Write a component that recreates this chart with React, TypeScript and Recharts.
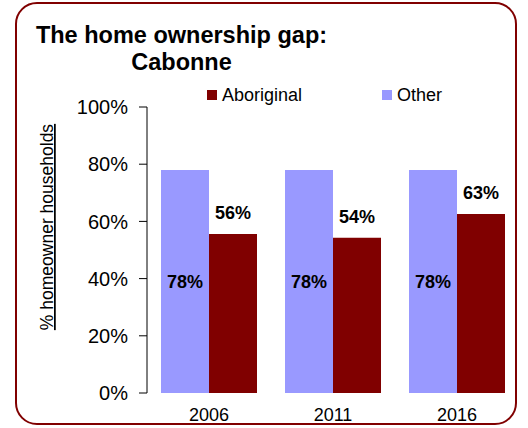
import React from "react";
import {
    BarChart,
    Bar,
    XAxis,
    YAxis,
    Legend,
    LabelList,
} from "recharts";

// values (percent of households)
const years = ["2006", "2011", "2016"];
const otherShare = [78, 78, 78];
const aboriginalShare = [55.6, 54.3, 62.6];
const yTicks = [0, 20, 40, 60, 80, 100];

const legendItems = [
    { name: "Aboriginal", color: "#800000" },
    { name: "Other", color: "#9999FF" },
];

const data = years.map((year, i) => ({
    year,
    other: otherShare[i],
    aboriginal: aboriginalShare[i],
}));

const FONT = '"Liberation Sans", Arial, Helvetica, sans-serif';

const pct = (v: any) => `${Math.round(Number(v))}%`;

const LegendContent = () => (
    <div style={{ display: "flex", fontFamily: FONT, fontSize: 18, color: "#000" }}>
        {legendItems.map((item, i) => (
            <div
                key={item.name}
                style={{
                    display: "flex",
                    alignItems: "center",
                    width: i === 0 ? 175 : "auto",
                    lineHeight: "20px",
                }}
            >
                <div
                    style={{
                        width: 10,
                        height: 10,
                        backgroundColor: item.color,
                        marginRight: 5,
                    }}
                />
                <span>{item.name}</span>
            </div>
        ))}
    </div>
);

const YLabel = (props: any) => {
    const vb = props.viewBox || {};
    const x = 53;
    const cy = vb.y + vb.height / 2 - 23;
    return (
        <text
            x={x}
            y={cy}
            transform={`rotate(-90, ${x}, ${cy})`}
            textAnchor="middle"
            fontSize={17.5}
            fontFamily={FONT}
            fill="#000"
            style={{ textDecoration: "underline", textUnderlineOffset: 4 } as any}
        >
            % homeowner households
        </text>
    );
};

export default function App() {
    return (
        <div
            style={{
                position: "absolute",
                left: 0,
                top: 0,
                width: 528,
                height: 428,
                background: "#fff",
                fontFamily: FONT,
                overflow: "hidden",
            }}
        >
            <div
                style={{
                    position: "absolute",
                    left: 15,
                    top: 2,
                    width: 502,
                    height: 423,
                    boxSizing: "border-box",
                    border: "2px solid #800000",
                    borderRadius: 22,
                }}
            />
            <div
                style={{
                    position: "absolute",
                    left: 31,
                    top: 22,
                    width: 301,
                    textAlign: "center",
                    fontSize: 23.5,
                    lineHeight: "27px",
                    fontWeight: "bold",
                    color: "#000",
                }}
            >
                The home ownership gap:
                <br />
                Cabonne
            </div>
            <div style={{ position: "absolute", left: 0, top: 0 }}>
                <BarChart
                    width={528}
                    height={428}
                    data={data}
                    margin={{ top: 107, right: 9, left: 0, bottom: 5 }}
                    barSize={48}
                    barGap={0}
                    barCategoryGap={14}
                >
                    <XAxis
                        dataKey="year"
                        axisLine={false}
                        tickLine={false}
                        height={30}
                        tickMargin={9}
                        tick={{ fontSize: 18, fill: "#000", fontFamily: FONT }}
                    />
                    <YAxis
                        width={147}
                        domain={[0, 100]}
                        ticks={yTicks}
                        tickFormatter={(v) => `${v}%`}
                        tickSize={8}
                        tickMargin={11}
                        axisLine={{ stroke: "#000" }}
                        tickLine={{ stroke: "#000" }}
                        tick={{ fontSize: 20, fill: "#000", fontFamily: FONT }}
                        label={<YLabel />}
                    />
                    <Legend
                        layout="horizontal"
                        verticalAlign="middle"
                        align="center"
                        content={<LegendContent />}
                        wrapperStyle={{ left: 207, top: 85, width: 300, margin: 0 }}
                    />
                    <Bar dataKey="other" name="Other" fill="#9999FF" isAnimationActive={false}>
                        <LabelList
                            dataKey="other"
                            position="center"
                            formatter={pct}
                            fill="#000"
                            fontSize={18}
                            fontWeight="bold"
                            fontFamily={FONT}
                        />
                    </Bar>
                    <Bar dataKey="aboriginal" name="Aboriginal" fill="#800000" isAnimationActive={false}>
                        <LabelList
                            dataKey="aboriginal"
                            position="top"
                            offset={15}
                            formatter={pct}
                            fill="#000"
                            fontSize={18}
                            fontWeight="bold"
                            fontFamily={FONT}
                        />
                    </Bar>
                </BarChart>
            </div>
        </div>
    );
}
